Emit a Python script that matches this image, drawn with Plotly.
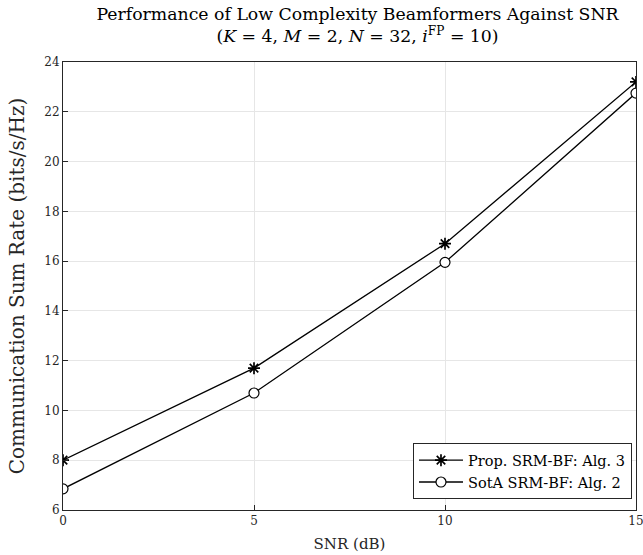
import plotly.graph_objects as go

snr = [0, 5, 10, 15]
prop_rate = [8.0, 11.7, 16.7, 23.2]
sota_rate = [6.85, 10.7, 15.95, 22.75]
prop_name = "Prop. SRM-BF: Alg. 3"
sota_name = "SotA SRM-BF: Alg. 2"
x_ticks = [0, 5, 10, 15]
y_ticks = [6, 8, 10, 12, 14, 16, 18, 20, 22, 24]

font_family = "DejaVu Serif, Liberation Serif, serif"

fig = go.Figure()
fig.add_trace(go.Scatter(
    x=snr, y=prop_rate, name=prop_name, mode="lines+markers",
    line=dict(color="black", width=1.3),
    marker=dict(symbol="asterisk", size=10, color="black",
                line=dict(color="black", width=1.7)),
))
fig.add_trace(go.Scatter(
    x=snr, y=sota_rate, name=sota_name, mode="lines+markers",
    line=dict(color="black", width=1.3),
    marker=dict(symbol="circle", size=10, color="white",
                line=dict(color="black", width=1.2)),
))

fig.update_layout(
    width=643, height=555,
    margin=dict(l=63, r=7, t=62, b=45, autoexpand=False),
    paper_bgcolor="white", plot_bgcolor="white",
    font=dict(family=font_family, color="#262626", size=12),
    title=dict(
        text="Performance of Low Complexity Beamformers Against SNR<br>"
             "(<i>K</i> = 4, <i>M</i> = 2, <i>N</i> = 32, <i>i</i><sup>FP</sup> = 10)",
        x=0.514, xanchor="center", xref="paper",
        y=0.964, yanchor="top", yref="container",
        font=dict(family=font_family, size=17.3, color="black"),
    ),
    showlegend=True,
    legend=dict(
        x=0.993, y=0.024, xanchor="right", yanchor="bottom",
        bgcolor="white", bordercolor="#262626", borderwidth=1,
        font=dict(family=font_family, size=14.5, color="black"),
        tracegroupgap=0, itemwidth=44,
    ),
)
fig.update_xaxes(
    range=[0, 15], tickvals=x_ticks, ticktext=[str(v) for v in x_ticks],
    title=dict(text="SNR (dB)", font=dict(size=15, color="#262626"), standoff=11),
    automargin=False, ticklabeloverflow="allow",
    showgrid=True, gridcolor="#e6e6e6", gridwidth=1,
    showline=True, linecolor="#262626", linewidth=1, mirror=True,
    ticks="inside", ticklen=5, tickcolor="#262626", zeroline=False,
    tickfont=dict(size=12, color="#262626"),
)
fig.update_yaxes(
    range=[6, 24], tickvals=y_ticks, ticktext=[str(v) for v in y_ticks],
    title=dict(text="Communication Sum Rate (bits/s/Hz)", font=dict(size=20, color="#262626"), standoff=14),
    automargin=False, ticklabeloverflow="allow",
    showgrid=True, gridcolor="#e6e6e6", gridwidth=1,
    showline=True, linecolor="#262626", linewidth=1, mirror=True,
    ticks="inside", ticklen=5, tickcolor="#262626", zeroline=False,
    tickfont=dict(size=12, color="#262626"),
)

fig.write_html("out.html", config={"displayModeBar": False},
               post_script="document.body.style.margin='0';")
